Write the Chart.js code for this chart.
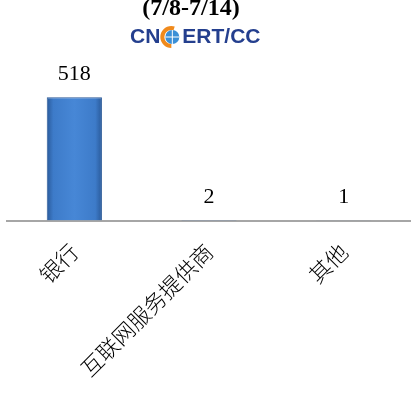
<!DOCTYPE html>
<html lang="zh">
<head>
    <meta charset="UTF-8">
    <title>CNCERT/CC</title>
    <script src="https://cdn.jsdelivr.net/npm/chart.js"></script>
    <style>
        body {
            margin: 0;
            padding: 0;
            background: #fff;
        }
    </style>
</head>
<body>
    <canvas id="grafico" width="411" height="396"></canvas>
    <script>
        const categorias = ['银行', '互联网服务提供商', '其他'];
        const valores = [518, 2, 1];
        const titulo = '(7/8-7/14)';

        // titulo y logo arriba
        const cabecera = {
            id: 'cabecera',
            afterDraw(chart) {
                const ctx = chart.ctx;
                ctx.save();
                ctx.fillStyle = '#000';
                ctx.font = 'bold 24px "Liberation Serif"';
                ctx.textAlign = 'center';
                ctx.textBaseline = 'middle';
                ctx.fillText(titulo, 191, 9);

                ctx.font = 'bold 21px "Liberation Sans"';
                ctx.textAlign = 'left';
                ctx.fillStyle = '#243f8e';
                let x = 130;
                ctx.fillText('CN', x, 37);
                x += ctx.measureText('CN').width + 1;
                // globo
                ctx.beginPath();
                ctx.arc(x + 10, 37, 9, 0.5 * Math.PI, 1.6 * Math.PI);
                ctx.lineWidth = 4;
                ctx.strokeStyle = '#f08a1c';
                ctx.stroke();
                ctx.beginPath();
                ctx.arc(x + 11, 37, 7, 0, 2 * Math.PI);
                ctx.fillStyle = '#3b8fd6';
                ctx.fill();
                ctx.strokeStyle = '#fff';
                ctx.lineWidth = 1;
                ctx.beginPath();
                ctx.moveTo(x + 4, 37); ctx.lineTo(x + 18, 37);
                ctx.moveTo(x + 11, 30); ctx.lineTo(x + 11, 44);
                ctx.stroke();
                x += 21;
                ctx.fillStyle = '#243f8e';
                ctx.fillText('ERT/CC', x, 37);
                ctx.restore();
            }
        };

        // numeros encima de las barras
        const etiquetas = {
            id: 'etiquetas',
            afterDatasetsDraw(chart) {
                const ctx = chart.ctx;
                const meta = chart.getDatasetMeta(0);
                ctx.save();
                ctx.fillStyle = '#000';
                ctx.font = '22px "Liberation Serif"';
                ctx.textAlign = 'center';
                ctx.textBaseline = 'middle';
                meta.data.forEach((barra, i) => {
                    ctx.fillText(valores[i], barra.x, barra.y - 23);
                });
                ctx.restore();
            }
        };

        const ctx1 = document.getElementById('grafico').getContext('2d');
        new Chart(ctx1, {
            type: 'bar',
            data: {
                labels: categorias,
                datasets: [{
                    data: valores,
                    backgroundColor: (c) => {
                        const chart = c.chart;
                        const area = chart.chartArea;
                        const sx = chart.scales.x;
                        if (!area || !sx) return '#3f7fcf';
                        const cx = sx.getPixelForValue(c.dataIndex);
                        const w = area.width / categorias.length * 0.41;
                        if (!isFinite(cx) || !isFinite(w)) return '#3f7fcf';
                        const g = chart.ctx.createLinearGradient(cx - w / 2, 0, cx + w / 2, 0);
                        g.addColorStop(0, '#2a5a9a');
                        g.addColorStop(0.12, '#3d7bc9');
                        g.addColorStop(0.5, '#4787d6');
                        g.addColorStop(0.88, '#3d7bc9');
                        g.addColorStop(1, '#2a5a9a');
                        return g;
                    },
                    borderColor: '#2c5a98',
                    borderWidth: 1,
                    barPercentage: 0.41,
                    categoryPercentage: 1
                }]
            },
            options: {
                responsive: false,
                animation: false,
                layout: {
                    padding: { top: 60, left: 7, right: 0, bottom: 15 }
                },
                plugins: {
                    legend: { display: false },
                    tooltip: { enabled: false }
                },
                scales: {
                    x: {
                        grid: { display: false },
                        border: { display: true, color: '#a6a6a6', width: 2 },
                        ticks: {
                            color: '#000',
                            font: { family: '"Noto Sans CJK SC"', size: 22, weight: 300 },
                            minRotation: 45,
                            maxRotation: 45,
                            padding: 10
                        }
                    },
                    y: {
                        display: false,
                        min: 0,
                        max: 675
                    }
                }
            },
            plugins: [cabecera, etiquetas]
        });
    </script>
</body>
</html>
